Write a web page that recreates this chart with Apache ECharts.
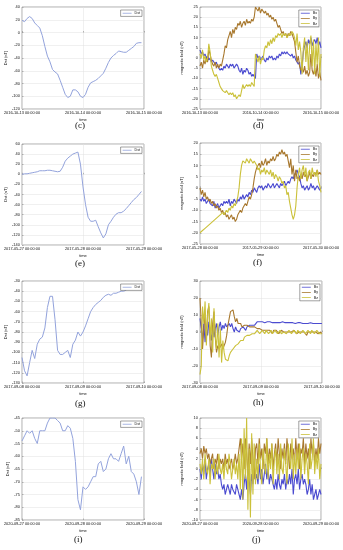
<!DOCTYPE html>
<html><head><meta charset="utf-8">
<script src="https://cdn.jsdelivr.net/npm/echarts@6/dist/echarts.min.js"></script>
<style>html,body{margin:0;padding:0;background:#fff}#c{width:343px;height:550px}</style>
</head><body><div id="c"></div>
<script>
// ---- tick labels ----
const ticksC = ['2016-10-13 00:00:00','2016-10-14 00:00:00','2016-10-15 00:00:00'];
const ticksD = ['2016-10-13 00:00:00','2016-10-14 00:00:00','2016-10-15 00:00:00'];
const ticksE = ['2017-05-27 00:00:00','2017-05-28 00:00:00','2017-05-29 00:00:00'];
const ticksF = ['2017-05-28 00:00:00','2017-05-29 00:00:00','2017-05-30 00:00:00'];
const ticksG = ['2017-09-08 00:00:00','2017-09-09 00:00:00','2017-09-10 00:00:00'];
const ticksH = ['2017-09-08 00:00:00','2017-09-09 00:00:00','2017-09-10 00:00:00'];
const ticksI = ['2020-09-27 00:00:00','2020-09-28 00:00:00','2020-09-29 00:00:00'];
const ticksJ = ['2020-09-27 00:00:00','2020-09-28 00:00:00','2020-09-29 00:00:00'];

// ---- Dst, hourly ----
const dstC = [19,17,22,25,22,15,11,7,-5,-22,-37,-46,-58,-62,-65,-75,-86,-97,-102,-100,-90,-90,-93,-100,-102,-97,-86,-79,-77,-75,-72,-68,-64,-56,-47,-40,-36,-33,-29,-30,-31,-31,-28,-25,-22,-17,-16,-16];
const dstE = [0,1,1,2,3,4,5,7,7,7,8,8,7,6,5,6,14,26,32,36,40,42,44,20,-25,-60,-85,-93,-93,-91,-104,-116,-126,-118,-100,-93,-85,-79,-76,-76,-73,-68,-62,-56,-50,-46,-40,-34];
const dstG = [-105,-118,-123,-110,-98,-106,-92,-87,-85,-76,-56,-45,-45,-68,-98,-102,-102,-100,-98,-105,-92,-88,-80,-84,-80,-74,-67,-60,-56,-53,-51,-49,-46,-44,-43,-44,-42,-42,-41,-40,-40,-39];
const dstI = [-54,-52,-50,-51,-50,-53,-55,-50,-50,-50,-47,-45,-45,-45,-46,-47,-50,-50,-48,-49,-53,-62,-77,-81,-72,-73,-72,-70,-68,-68,-63,-62,-66,-65,-61,-59,-61,-61,-62,-59,-56,-63,-60,-66,-67,-70,-75,-68];

// ---- magnetic field, 30-min samples ----
const bxD = [4,2,3,1,2, 0,1,-1,0,-2,-1, -2,-3,-2,-4, -5,-6,-5,-6, -4,-5,-3,-4,-5,-3,-4,-3,-5,-4,-3,-4, -6,-7,-5,-8, -6,-7,-5,-6,-8,-7,-9,-8,-9,-10, 2,0,1,-1,0,1, -1,-2,0,-1,1,0,1,-1,0,-1, 1,0,2,1,3,2,3,2,3,2, 2,1,2,0,1,-1,-2,-3,-2, -8,-4,3, 6,8,5,9,7,10,6,8,9,7,10,6,8,5];
const byD = [-4,-2,-5,-1,-3, 0,-2,4,2,-1,-3, -4,-2,-5,-3, -5,-3,-4,-1, 2,6,5,9, 11,13,10,14,12,15, 14,17,16,18,15,17, 18,16,19,17,18,17,19,18,20, 25, 24,23,25,22,24,23, 22,23,21,22,20,21,19,20, 18,19,17,15,16,14,12,13, 11,12,10,12,11,13,12,10, 8,3,-2,1,-4,-6, -5,-7,-4,-8,-6,-9,-7,2,-6,-8,-5,-9,-3,-10,-7,-11];
const bzD = [2,0,4,-1,1, -2,0,7,3,-4,-6, -8,-9,-8,-10, -12,-14,-15,-16, -16,-17,-16,-17,-18,-17, -18,-17,-19,-18,-20,-19,-18,-19, -16,-13,-15,-14,-13,-14, -13,-14,-12,-13,-14, 2, 0,-2,1,-3,0,-1, 4,6,5,8,6,9, 7,10,8,11, 10,12,11,12,10,12, 11,12,10,11,12,11,13,12, 10,6,12,4,8,3, -8,5,10,-2,8,-6,6,11,-4,9,-8,7,-3,10,-9,2];

const bxF = [-5,-6,-4,-6,-5,-7,-6,-5,-7, -7,-8,-6,-9,-8,-7,-9,-8,-7,-8,-6,-7, -6,-7,-5,-8,-6,-7,-5,-6,-7,-5, -6,-4,-5,-3,-5,-4,-3,-4, -2,-3,-1,-2,0,-1,-2,0, 1,0,1,-1,0,1,0,2,1,0,1,2,0,1,2,1,0,2, 1,2,3,1,2,3,2,4, 5,4,6,7,8,6,5, 2,0,1,-1,0,1,-1,0,2,0,1,-1,0,1,0,-1,0];
const byF = [0,-3,-1,-4,-2,-5,-4,-6,-5, -7,-6,-8,-7,-9,-8,-10,-9,-11, -10,-12,-11,-13,-12,-14,-13,-12,-14,-13,-15,-14,-12, -11,-10,-11,-9,-8,-7,-8,-6,-4,-5,-3, 0,4,7,9,10, 11,9,12,10,11,13,10,12,11,13,12,14,12,13, 15,14,16,15,17,15,16,14,15, 12,9,13,6,10,3,8,4, 5,3,6,4,7,5,6,3,5,7,4,6,5,7,6,8,6,7,6];
const bzF = [-20,-20,-19,-19,-18,-18,-17,-17,-16, -16,-15,-15,-14,-14,-13,-13,-12,-12,-11,-12,-11, -10,-11,-9,-10,-8,-9,-7,-8,-6,-4, 0,6,10,12, 12,11,13,12,11,13,12,11,12,11, 10,8,9,6,8,7,9,6,8,7, 6,8,5,7,4,6,5,3,5,4, 2,3,0,1,-3,-2,-6,-9,-12,-14,-12,-8, 0,6,9,4,8,10,5,9,3,7,8,4,9,6,7,5,8,3,1,-2];

const bxH = [8,2,-4,5,-6,3,-2,6,0,-5,4,-3,2, 5,-2,3,6,1,4,2,5,3,4,5,3, 5,2,0,3,1,2, 0,2,1,3,2,1,3,2,4,3, 4,5,4,5,6,5,6,6, 6,6,5.5,6,6,5.5,6,6,5.5,6, 5.5,6,5.5,6,5.5,5.5,6,5.5,5.5,6, 5.5,5.5,5.5,6,5.5,5.5,5,5.5,5.5,5, 5.5,5.5,5,5.5,5,5.5,5,5,5.5,5, 5,5.5,5,5,5,5,5,5];
const byH = [20,5,-10,2,10,-5,12,15,-8,-15,5,12,-3, -12,-8,-10,-9,-7,-10,-8,-6, -2,4,8,12,11,13, 9,6,8,5,4,5,3,4, 4,3,4,3,3,2,3,2,3,2,2,1,2,1, 1,0,1,2,1,0,1,0,-1,1, 0,1,0,-1,0,1,0,0,-1,0, 1,0,-1,0,0,1,0,-1,0,0, -1,0,1,0,-1,-2,0,-1,0,1, 0,-1,0,1,-1,0,0,-1];
const bzH = [-25,-20,15,5,18,-8,10,17,-5,8,-12,14,-2, -10,5,-15,2,-18,-5,-12,-16, -15,-17,-14,-12,-13,-10,-11,-8,-9,-7, -6,-5,-4,-5,-3,-4,-2,-3,-2,-1, -1,0,-1,0,1,0,-1,0,1,0, -1,1,0,-1,0,1,-1,0,1,0, -1,0,1,-1,0,0,1,-1,0,1, 0,-1,0,1,0,-1,1,0,-1,0, 1,0,-1,0,1,0,-1,1,0,-1, 0,1,0,-1,0,-1];

const bxJ = [0,-2,1,-1,2,-2,0,1,-1,2,0,-2,1,-1,0,-2,-1, -3,-4,-3,-5,-4,-3,-4,-5,-3,-4,-4,-5,-3,-4, -5,-6,-4,-6, -3,-1,-4,0,-2,-5,-1,-3,0,-2, -1,-3,1,-2,0,-3,-1,1,-2,0,-3,-1,-2, -3,-4,-2,-4,-1,-3,-4,-2,-3,-1,-4,-2,-3, -1,-3,0,-5,-2,-1,-3,0,-4,-2,-1,-3,-2, -3,-5,-4,-2,-5,-3,-6,-5,-4,-6,-5,-4,-5];
const byJ = [3,4,2,4.5,3,4,2,3,1,2,3,0,2,1,3,0,2, 1,2,0,3,1,2,0,1,2,0,1,3,1,2, 4,6,2,5,0,6,3,-1,5,1,6,2,-2,4, 5,1,6,2,4,0,5,3,6,1, 4,2,5,0,3,5,1,6,3,0, 4,2,5,1,6,3,0,5,2,4, 1,6,2,5,0,4,3,6,1,5, 2,4,0,6,3,5,1,4,2,6, 3,5];
const bzJ = [1,-1,2,-2,3,0,-1,2,-3,1,0,2,-2,1,-1,3,0, -1,1,-2,2,0,-1,3,1,-2,0,2,-1,1,-2, 3,-4,6,-6,8,-2,10,-8,4,-9.5,7,-5,5,-3, 2,-2,5,0,-3,4,1,-1,6,-2, 3,0,5,-3,2,4,-1,3,-2,5, 0,-1,4,1,-3,5,2,0,6,-2, 3,-1,4,0,5,-2,2,4,-1,3, 1,-3,5,0,2,6,-1,3,0,4, -2,1];

// ---- styling ----
const DST_COLOR = '#93a3dc';
const BX_COLOR = '#4b4bd0';
const BY_COLOR = '#a8782e';
const BZ_COLOR = '#cbc13a';
const FONT = 'Liberation Sans';
const TXT = '#111';

const panels = [
  {kind:'dst', ticks:ticksC, rect:[22,7,122,102], y:[-120,40,20], label:'(c)', lx:81, ly:127, data:{Dst:dstC}},
  {kind:'b',   ticks:ticksD, rect:[200,7,121,102], y:[-25,25,5], label:'(d)', lx:259, ly:127, data:{Bx:bxD,By:byD,Bz:bzD}},
  {kind:'dst', ticks:ticksE, rect:[22,144,122,101], y:[-140,60,20], label:'(e)', lx:81, ly:265, data:{Dst:dstE}},
  {kind:'b',   ticks:ticksF, rect:[200,143,121,101], y:[-25,20,5], label:'(f)', lx:259, ly:264, data:{Bx:bxF,By:byF,Bz:bzF}},
  {kind:'dst', ticks:ticksG, rect:[22,281,122,102], y:[-130,-30,10], label:'(g)', lx:81, ly:405, data:{Dst:dstG}},
  {kind:'b',   ticks:ticksH, rect:[200,281,122,102], y:[-30,30,10], label:'(h)', lx:259, ly:404, data:{Bx:bxH,By:byH,Bz:bzH}},
  {kind:'dst', ticks:ticksI, rect:[22,418,122,102], y:[-85,-45,5], label:'(i)', lx:80, ly:541, data:{Dst:dstI}},
  {kind:'b',   ticks:ticksJ, rect:[200,418,121,102], y:[-10,10,2], label:'(j)', lx:258, ly:541, data:{Bx:bxJ,By:byJ,Bz:bzJ}}
];
const colors = {Dst:DST_COLOR, Bx:BX_COLOR, By:BY_COLOR, Bz:BZ_COLOR};

const grid = [], xAxis = [], yAxis = [], series = [], legend = [], graphic = [];
panels.forEach((p, i) => {
  const [l, t, w, h] = p.rect;
  grid.push({left:l, top:t, width:w, height:h, show:true, borderColor:'#777', borderWidth:0.6, backgroundColor:'#fff'});
  const tk = p.ticks;
  xAxis.push({gridIndex:i, type:'value', min:0, max:48, interval:24,
    name:'time', nameLocation:'middle', nameGap:8.5,
    nameTextStyle:{fontSize:4, color:TXT, fontFamily:FONT},
    axisLine:{show:false}, axisTick:{inside:true, length:1.5, lineStyle:{color:'#777', width:0.5}},
    axisLabel:{fontSize:3.9, color:TXT, fontFamily:FONT, margin:2.2, showMinLabel:true, showMaxLabel:true,
      formatter: v => tk[Math.round(v/24)]},
    splitLine:{show:true, lineStyle:{color:'#e0e0e0', width:0.5}}});
  const isB = p.kind === 'b';
  yAxis.push({gridIndex:i, type:'value', min:p.y[0], max:p.y[1], interval:p.y[2],
    name: isB ? 'magnetic field (nT)' : 'Dst (nT)', nameLocation:'middle', nameGap: isB ? 16 : 12,
    nameTextStyle:{fontSize:4, color:TXT, fontFamily:FONT},
    axisLine:{show:false}, axisTick:{inside:true, length:1.5, lineStyle:{color:'#777', width:0.5}},
    axisLabel:{fontSize:3.9, color:TXT, fontFamily:FONT, margin:2.2},
    splitLine:{show:true, lineStyle:{color:'#e0e0e0', width:0.5}}});
  const names = Object.keys(p.data);
  names.forEach(n => {
    const arr = p.data[n];
    const step = isB ? 0.5 : 1;
    series.push({type:'line', name:n, xAxisIndex:i, yAxisIndex:i,
      data: arr.map((v, k) => [k*step, v]),
      showSymbol:false, symbol:'none', animation:false,
      lineStyle:{width: isB ? 1.1 : 1, color:colors[n]}, itemStyle:{color:colors[n]}});
  });
  legend.push({data:names.map(n => ({name:n, icon:'rect'})), orient:'vertical',
    right: 343 - (l + w) + 2, top: t + 3,
    itemWidth:9, itemHeight:0.8, itemGap:1.2, padding:[1.2,2,1.2,2],
    borderColor:'#444', borderWidth:0.5, backgroundColor:'#fff',
    textStyle:{fontSize:3.6, color:TXT, fontFamily:FONT, padding:[0,0,0,-2]},
    selectedMode:false});
  graphic.push({type:'text', left:p.lx - 6, top:p.ly - 5.5, z:100,
    style:{text:p.label, fontSize:9, fontFamily:'Liberation Serif', fill:'#111', textAlign:'left'}});
});

const chart = echarts.init(document.getElementById('c'), null, {renderer:'canvas'});
chart.setOption({animation:false, backgroundColor:'#fff', grid, xAxis, yAxis, series, legend, graphic});
</script>
</body></html>
